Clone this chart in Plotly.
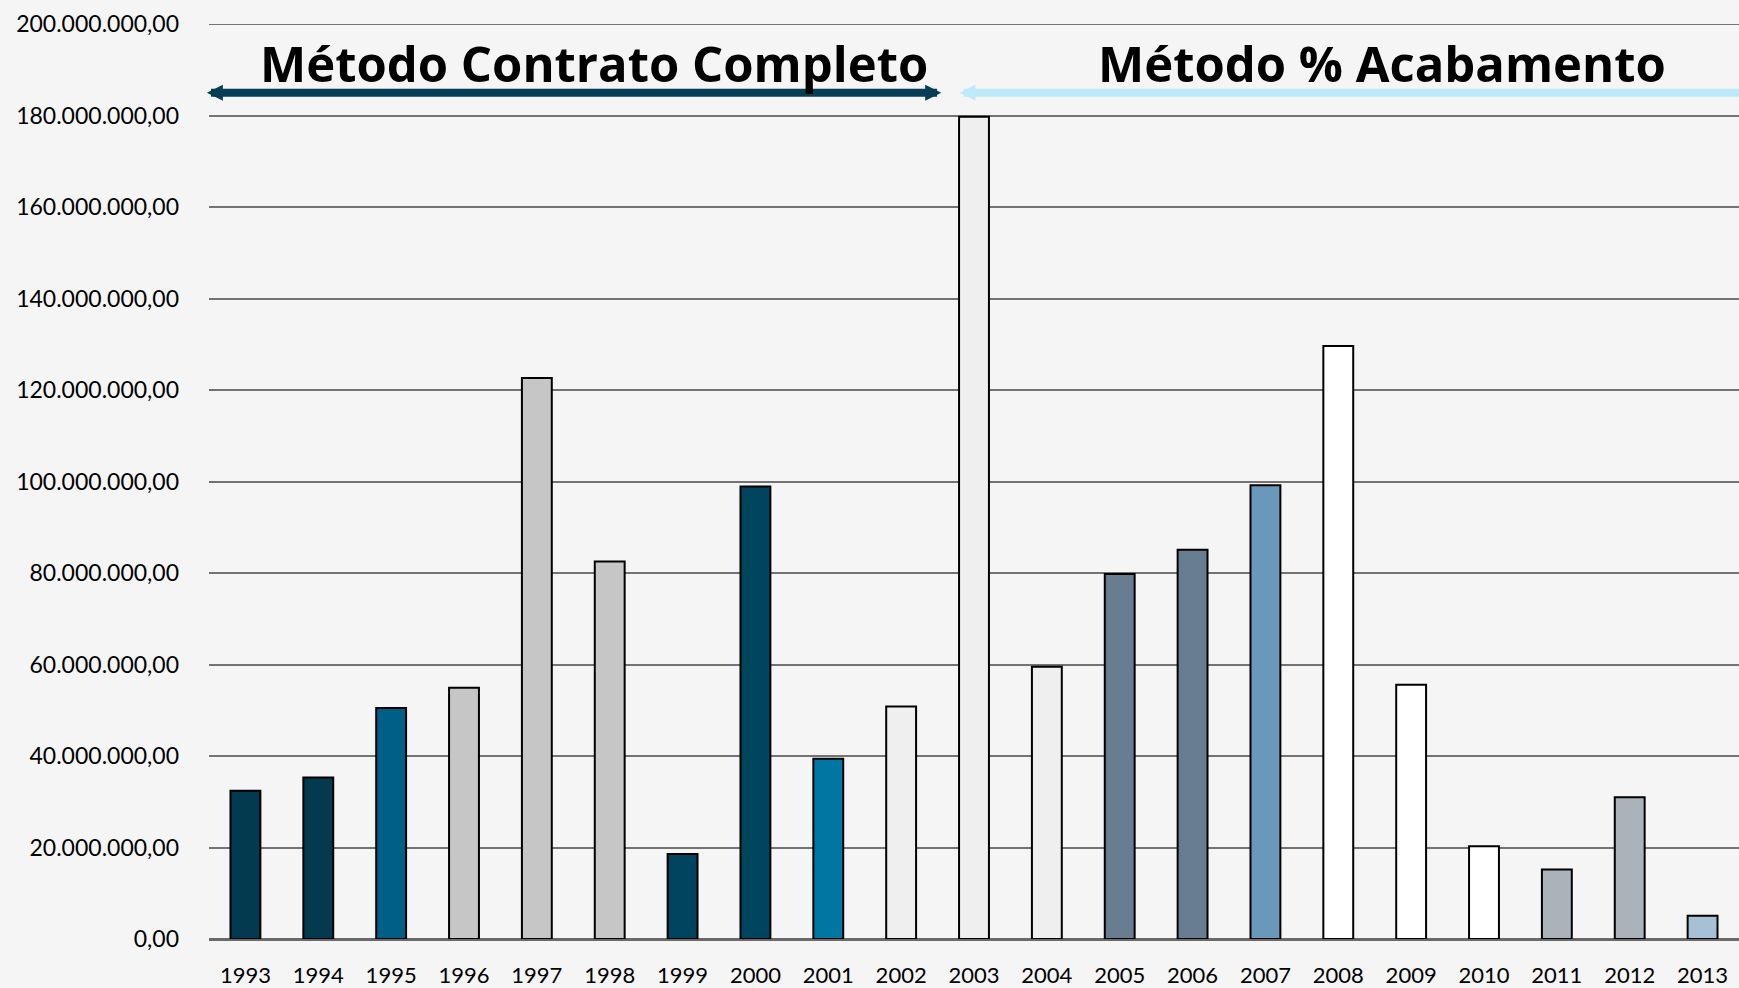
import plotly.graph_objects as go

# Valores
anos = [str(a) for a in range(1993, 2014)]
valores = [32.4e6, 35.3e6, 50.5e6, 54.9e6, 122.6e6, 82.5e6, 18.6e6, 98.9e6,
           39.4e6, 50.8e6, 179.7e6, 59.5e6, 79.8e6, 85.1e6, 99.2e6, 129.6e6,
           55.6e6, 20.3e6, 15.2e6, 31.0e6, 5.1e6]
cores = ['#033a50', '#033a50', '#005f87', '#c6c6c6', '#c6c6c6', '#c6c6c6',
         '#00445f', '#00455f', '#0076a3', '#efefef', '#efefef', '#efefef',
         '#687d8f', '#687d8f', '#6a98ba', '#ffffff', '#ffffff', '#ffffff',
         '#abb3ba', '#abb3ba', '#a8c0d6']
metodos = ['Método Contrato Completo', 'Método % Acabamento']

fig = go.Figure()
fig.add_trace(go.Bar(
    x=anos,
    y=valores,
    marker=dict(color=cores, line=dict(color='black', width=2)),
    width=0.41,
    showlegend=False
))

bg = '#f5f5f5'
fig.update_layout(
    width=1739, height=988,
    margin=dict(l=209, r=0, t=24, b=46),
    paper_bgcolor=bg, plot_bgcolor=bg,
    separators=',.',
    font=dict(family='Lato, Open Sans, sans-serif', color='black', size=21),
    xaxis=dict(type='category', range=[-0.5, 20.5], showgrid=False,
               showline=False, ticks='', ticklabelstandoff=21,
               tickfont=dict(size=22)),
    yaxis=dict(range=[0, 200e6], dtick=20e6, tickformat=',.2f',
               showgrid=True, gridcolor='#737373', gridwidth=2,
               zeroline=True, zerolinecolor='#6a6a6a', zerolinewidth=3,
               ticklabelstandoff=29, tickfont=dict(size=23)),
)
# linha de grade no topo (200 milhões)
fig.add_hline(y=200e6, line=dict(color='#737373', width=2))

# Setas dos dois métodos
y_seta = 185e6
fig.add_annotation(x=9.55, y=y_seta, ax=-0.55, ay=y_seta, xref='x', yref='y',
                   axref='x', ayref='y', text='', showarrow=True,
                   arrowhead=2, arrowside='end+start', arrowsize=0.4,
                   arrowwidth=8, arrowcolor='#073d55')
fig.add_annotation(x=9.8, y=y_seta, ax=20.7, ay=y_seta, xref='x', yref='y',
                   axref='x', ayref='y', text='', showarrow=True,
                   arrowhead=2, arrowsize=0.4, arrowwidth=8,
                   arrowcolor='#bde9f9')

fig.add_annotation(x=4.78, y=191.5e6, xref='x', yref='y', text=metodos[0],
                   showarrow=False, font=dict(size=49, family='Open Sans',
                                              color='black', weight='bold'))
fig.add_annotation(x=15.6, y=191.5e6, xref='x', yref='y', text=metodos[1],
                   showarrow=False, font=dict(size=49, family='Open Sans',
                                              color='black', weight='bold'))

fig.write_html("out.html", config={'displayModeBar': False},
               post_script="document.body.style.margin='0px';"
                           "document.body.style.background='#f5f5f5';")
